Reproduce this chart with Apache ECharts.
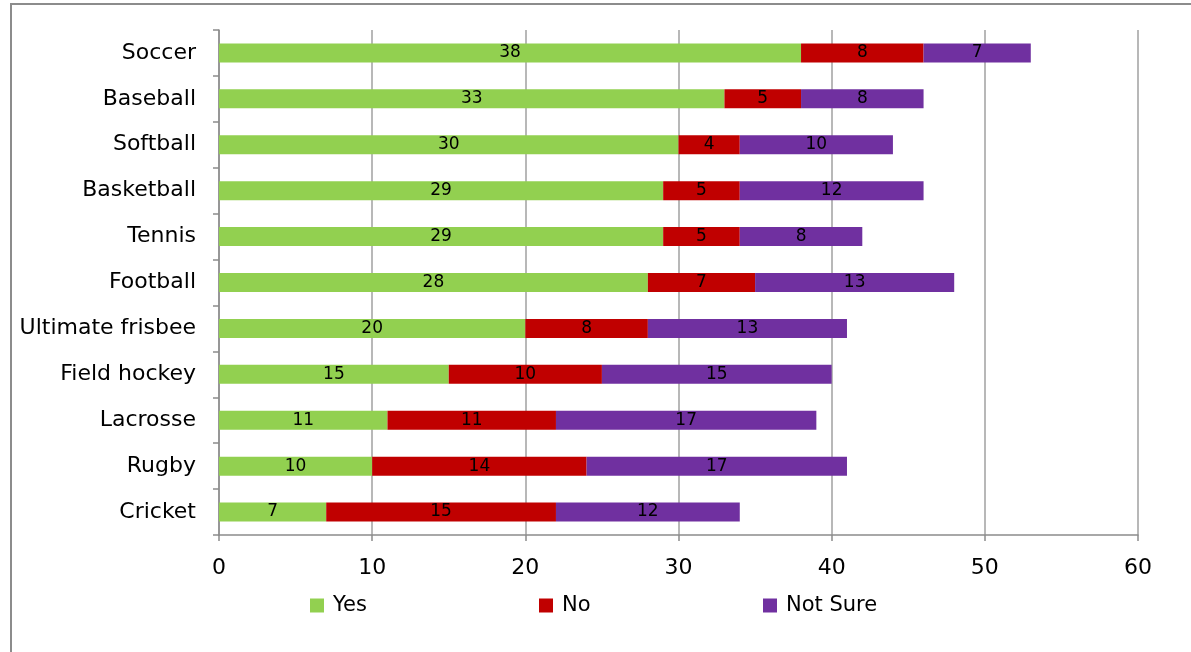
<!DOCTYPE html>
<html><head><meta charset="utf-8">
<script src="https://cdn.jsdelivr.net/npm/echarts@6/dist/echarts.min.js"></script>
<style>html,body{margin:0;padding:0;background:#fff;}#c{width:1191px;height:652px;}</style>
</head><body><div id="c"></div>
<script>
const categories = ["Soccer","Baseball","Softball","Basketball","Tennis","Football","Ultimate frisbee","Field hockey","Lacrosse","Rugby","Cricket"];
const yesValues = [38,33,30,29,29,28,20,15,11,10,7];
const noValues = [8,5,4,5,5,7,8,10,11,14,15];
const notSureValues = [7,8,10,12,8,13,13,15,17,17,12];
const xTicks = {min:0, max:60, interval:10};
const seriesNames = ['Yes','No','Not Sure'];

const FONT = "DejaVu Sans";
const chart = echarts.init(document.getElementById('c'));
function mk(name, data, color){
  return {name, type:'bar', stack:'total', data, barWidth:19,
    itemStyle:{color},
    label:{show:true, position:'inside', color:'#000', fontSize:17, fontFamily:FONT}};
}
const legendLefts = [310, 539, 763];
chart.setOption({
  animation:false,
  textStyle:{fontFamily:FONT},
  graphic:[{type:'rect', shape:{x:11,y:4,width:1300,height:800}, style:{fill:'none', stroke:'#8c8c8c', lineWidth:2}, z:-1}],
  grid:{left:219, right:53, top:30, bottom:117},
  legend: seriesNames.map((n,i)=>({left:legendLefts[i], top:595, padding:0, itemWidth:14, itemHeight:14, icon:'rect',
    textStyle:{fontSize:21, color:'#000', fontFamily:FONT, padding:[0,0,0,4]}, data:[n]})),
  xAxis:{type:'value', min:xTicks.min, max:xTicks.max, interval:xTicks.interval,
    axisLine:{show:true, lineStyle:{color:'#8c8c8c', width:1.5}},
    axisTick:{show:true, length:6, lineStyle:{color:'#8c8c8c', width:1.5}},
    axisLabel:{fontSize:22, color:'#000', margin:22, fontFamily:FONT},
    splitLine:{show:true, lineStyle:{color:'#a0a0a0', width:1.5}}},
  yAxis:{type:'category', inverse:true, data:categories,
    axisLine:{show:true, lineStyle:{color:'#8c8c8c', width:1.5}},
    axisTick:{show:true, length:6, lineStyle:{color:'#8c8c8c', width:1.5}},
    axisLabel:{fontSize:22, color:'#000', margin:23, fontFamily:FONT}},
  series:[mk('Yes', yesValues, '#92D050'), mk('No', noValues, '#C00000'), mk('Not Sure', notSureValues, '#7030A0')]
});
</script></body></html>
